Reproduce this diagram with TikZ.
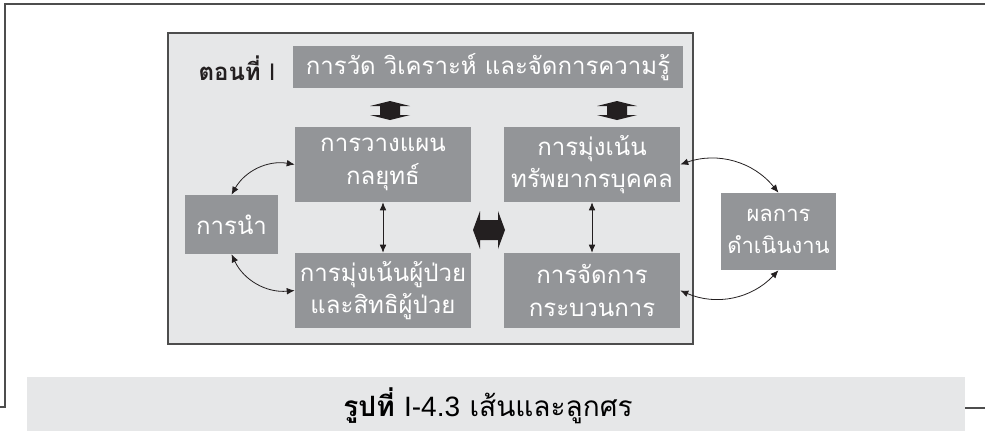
\documentclass[tikz,border=0pt]{standalone}
\usepackage{fontspec}
\newfontfamily\thaifont[Script=Thai]{Loma}
\newfontfamily\latinfont{Liberation Sans}
\usetikzlibrary{positioning,arrows.meta}
\definecolor{boxgray}{HTML}{939598}
\definecolor{panelgray}{HTML}{E6E7E8}
\definecolor{framegray}{HTML}{4D4D4D}
\definecolor{inkdark}{HTML}{231F20}
\begin{document}
\begin{tikzpicture}[x=0.75pt,y=-0.75pt,>={Latex[length=6pt,width=5pt]},
			font=\thaifont\fontsize{18}{24.5}\selectfont,
			main box/.style = {fill=boxgray,text=white,align=center,inner sep=0pt,
				minimum width=132pt,minimum height=56.25pt},
			thin arrow/.style = {<->,line width=0.6pt,inkdark}]
			
			\useasboundingbox (0,0) rectangle (985,433);
			% outer frame and panel
			\draw[framegray,line width=1.2pt] (0,407) -- (5,407) -- (5,4) -- (985,4);
			\draw[framegray,line width=1.2pt] (965,408) -- (985,408);
			\draw[framegray,fill=panelgray,line width=0.8pt] (168,33) rectangle (693,344);
			
			\node[fill=boxgray,text=white,inner sep=0pt,minimum width=292.5pt,minimum height=31.5pt] (title) at (488,67) {การวัด วิเคราะห์ และจัดการความรู้};
			\node[text=inkdark,font=\thaifont\bfseries\fontsize{18}{24}\selectfont] (part) at (237,68) {ตอนที่ {\latinfont\mdseries I}};
			
			\node[main box] (plan) at (383,164.5) {การวางแผน\\กลยุทธ์};
			\node[main box] [right=156.75pt of plan.center,anchor=center] (hr) {การมุ่งเน้น\\ทรัพยากรบุคคล};
			\node[main box] [below=94.5pt of plan.center,anchor=center] (pat) {การมุ่งเน้นผู้ป่วย\\และสิทธิผู้ป่วย};
			\node[main box] [below=94.5pt of hr.center,anchor=center] (proc) {การจัดการ\\กระบวนการ};
			\node[main box,minimum width=69.75pt,minimum height=44.25pt] (lead) at (231.5,224.5) {การนำ};
			\node[main box,minimum width=86.25pt,minimum height=57.75pt,
				font=\thaifont\fontsize{16.5}{24.5}\selectfont] (res) at (778.5,231.5) {ผลการ\\ดำเนินงาน};
			
			% block arrows
			\fill[inkdark] (390,101) -- (410,106) -- (400,106) -- (400,115) -- (410,115) -- (390,120)
				-- (370,115) -- (380,115) -- (380,106) -- (370,106) -- cycle;
			\fill[inkdark] (617,101) -- (637,106) -- (627,106) -- (627,115) -- (637,115) -- (617,120)
				-- (597,115) -- (607,115) -- (607,106) -- (597,106) -- cycle;
			\fill[inkdark] (473,230) -- (480,211) -- (480,220) -- (498,220) -- (498,211) -- (505,230)
				-- (498,249) -- (498,240) -- (480,240) -- (480,249) -- cycle;
			
			\draw[thin arrow] (plan) -- (pat);
			\draw[thin arrow] (hr) -- (proc);
			\draw[thin arrow] (lead.north) to[bend left=35] (plan.west);
			\draw[thin arrow] (lead.south) to[bend right=35] (pat.west);
			\draw[thin arrow] (hr.east) to[bend left=35] (res.north);
			\draw[thin arrow] (proc.east) to[bend right=35] (res.south);
			
			% caption
			\fill[panelgray] (27,377) rectangle (965,431);
			\node[text=black,font=\thaifont\fontsize{21}{26}\selectfont] (cap) at (488,406) {\textbf{รูปที่} {\latinfont I-4.3} เส้นและลูกศร};
			
			\end{tikzpicture}
\end{document}
